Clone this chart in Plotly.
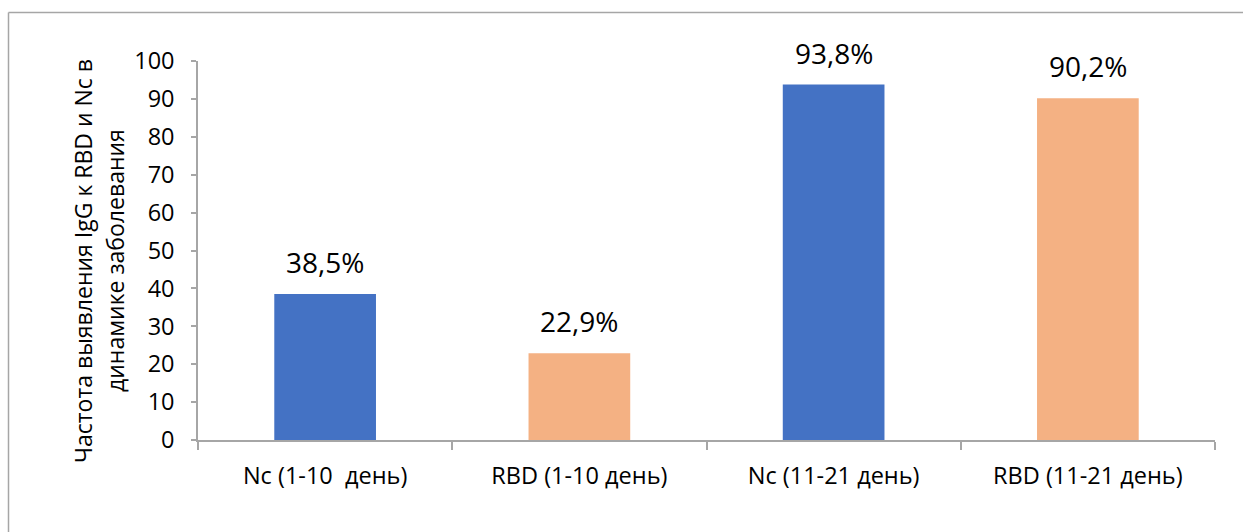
import plotly.graph_objects as go

# Detection frequency of IgG (Nc and RBD) by disease period
categories = ["Nc (1-10  день)", "RBD (1-10 день)", "Nc (11-21 день)", "RBD (11-21 день)"]
values = [38.5, 22.9, 93.8, 90.2]
colors = ["#4472C4", "#F4B183", "#4472C4", "#F4B183"]
y_ticks = [0, 10, 20, 30, 40, 50, 60, 70, 80, 90, 100]
y_title_lines = ["Частота выявления IgG к RBD и Nc в", "динамике заболевания"]

W, H = 1243, 532
L, R, T, B = 198, 28, 61, 92
pw, ph = W - L - R, H - T - B

FONT = "Open Sans"
AXIS_COLOR = "#A6A6A6"

fig = go.Figure(
    go.Bar(
        x=categories,
        y=values,
        marker=dict(color=colors, line=dict(width=0)),
        width=0.4,
        hoverinfo="x+y",
    )
)

# Percentage labels above the bars
for cat, v in zip(categories, values):
    fig.add_annotation(
        x=cat, y=v, xref="x", yref="y",
        text=f"{v:.1f}".replace(".", ",") + "%",
        showarrow=False, yanchor="bottom", yshift=11,
        font=dict(family=FONT, size=28, color="#000000"),
    )

# Rotated two-line y-axis title
def px_to_paper_x(px):
    return (px - L) / pw

def px_to_paper_y(py):
    return (H - B - py) / ph

for line, cx in zip(y_title_lines, [83, 115]):
    fig.add_annotation(
        x=px_to_paper_x(cx), y=px_to_paper_y(261), xref="paper", yref="paper",
        text=line, textangle=-90, showarrow=False,
        xanchor="center", yanchor="middle",
        font=dict(family=FONT, size=23, color="#000000"),
    )

# Chart-area frame (left and top edges visible)
fig.add_shape(type="line", xref="paper", yref="paper",
              x0=px_to_paper_x(8.5), x1=px_to_paper_x(8.5),
              y0=px_to_paper_y(12.5), y1=px_to_paper_y(H + 5),
              line=dict(color="#A6A6A6", width=1.5))
fig.add_shape(type="line", xref="paper", yref="paper",
              x0=px_to_paper_x(8.5), x1=px_to_paper_x(W + 5),
              y0=px_to_paper_y(12.5), y1=px_to_paper_y(12.5),
              line=dict(color="#A6A6A6", width=1.5))

fig.update_layout(
    width=W, height=H,
    margin=dict(l=L, r=R, t=T, b=B, pad=0),
    paper_bgcolor="white", plot_bgcolor="white",
    showlegend=False,
    bargap=0.6,
    font=dict(family=FONT, color="#000000"),
    xaxis=dict(
        type="category",
        showline=True, linecolor=AXIS_COLOR, linewidth=1.5,
        ticks="outside", tickson="boundaries", ticklen=8, tickcolor=AXIS_COLOR, tickwidth=1.5,
        tickfont=dict(family=FONT, size=23.5, color="#000000"),
        ticklabelstandoff=14,
        showgrid=False, zeroline=False,
    ),
    yaxis=dict(
        range=[0, 100],
        tickvals=y_ticks,
        showline=True, linecolor=AXIS_COLOR, linewidth=1.5,
        ticks="outside", ticklen=5, tickcolor=AXIS_COLOR, tickwidth=1.5,
        tickfont=dict(family=FONT, size=23.5, color="#000000"),
        ticklabelstandoff=12,
        showgrid=False, zeroline=False,
    ),
)

fig.write_html("out.html")
